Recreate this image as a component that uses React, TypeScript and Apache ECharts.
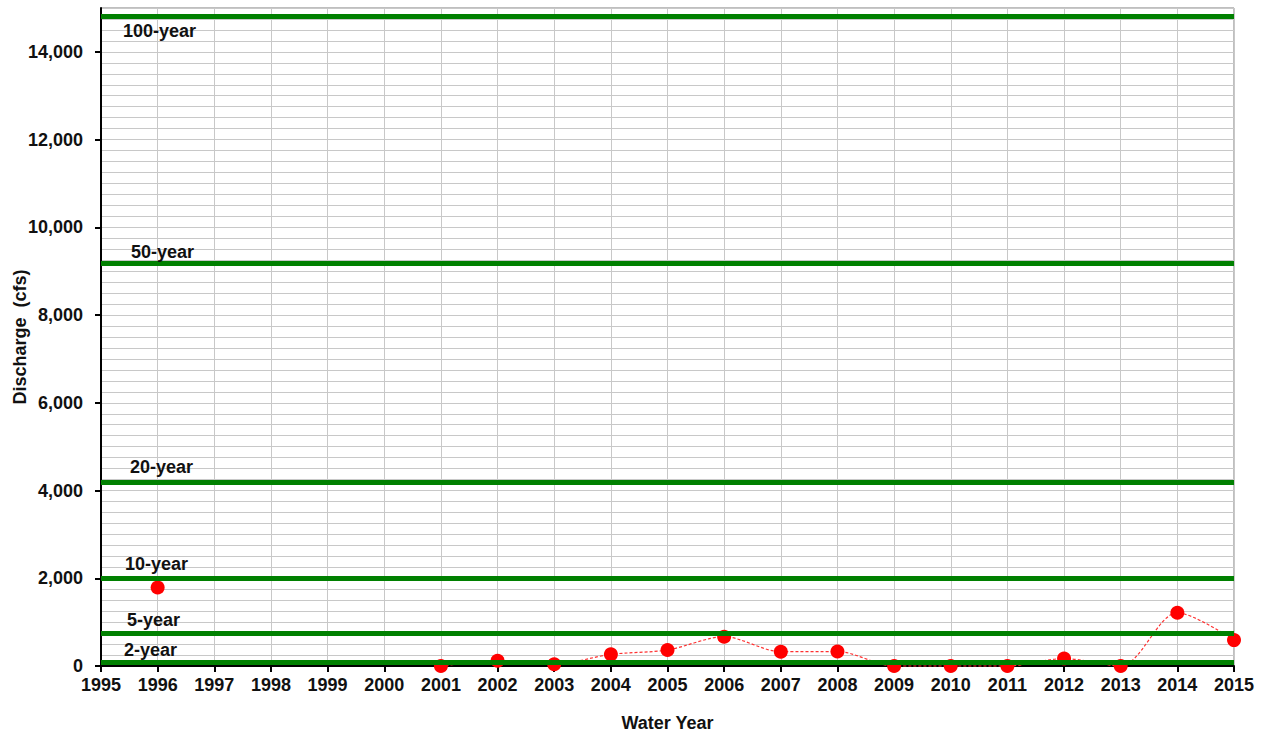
import React, { useEffect, useRef } from "react";
import * as echarts from "echarts";

const years = [1996, 1997, 1998, 1999, 2000, 2001, 2002, 2003, 2004, 2005, 2006, 2007, 2008, 2009, 2010, 2011, 2012, 2013, 2014, 2015];
const discharge = [1790, null, null, null, null, 0, 120, 40, 265, 365, 668, 326, 330, 0, 0, 0, 170, 0, 1215, 590];

const recurrenceNames = ["100-year", "50-year", "20-year", "10-year", "5-year", "2-year"];
const recurrenceValues = [14810, 9180, 4200, 2000, 740, 80];

const yTicks = [0, 2000, 4000, 6000, 8000, 10000, 12000, 14000];
const xMin = 1995;
const xMax = 2015;
const yMax = 15000;
const gridStep = 250;

const fmt = (v: number) => String(v).replace(/\B(?=(\d{3})+(?!\d))/g, ",");

export default function App() {
  const ref = useRef<HTMLDivElement>(null);

  useEffect(() => {
    document.body.style.margin = "0";
    if (!ref.current) return;
    const chart = echarts.init(ref.current, null, { renderer: "svg" });
    const font = "Liberation Sans, Arial, sans-serif";
    const textColor = "#111";
    const fs = 18;

    const labelLayout: Record<string, { pos: string; d: [number, number] }> = {
      "100-year": { pos: "insideStartBottom", d: [22, 6] },
      "50-year": { pos: "insideStartTop", d: [30, 2] },
      "20-year": { pos: "insideStartTop", d: [29, 6] },
      "10-year": { pos: "insideStartTop", d: [24, 5] },
      "5-year": { pos: "insideStartTop", d: [26, 5] },
      "2-year": { pos: "insideStartTop", d: [23, 3] },
    };

    chart.setOption({
      animation: false,
      backgroundColor: "#fff",
      grid: {
        left: 101,
        right: 30,
        top: 8,
        bottom: 70,
        show: true,
        borderColor: "#7f7f7f",
        borderWidth: 1,
        containLabel: false,
        outerBoundsMode: "none",
      },
      xAxis: {
        type: "value",
        min: xMin,
        max: xMax,
        interval: 1,
        name: "Water Year",
        nameLocation: "middle",
        nameGap: 48,
        nameMoveOverlap: false,
        nameTextStyle: { fontFamily: font, fontWeight: "bold", fontSize: fs, color: textColor },
        axisLine: { show: true, lineStyle: { color: "#000", width: 2 } },
        axisTick: { show: true, length: 6, lineStyle: { color: "#000", width: 2 } },
        axisLabel: {
          margin: 10,
          fontFamily: font,
          fontWeight: "bold",
          fontSize: fs,
          color: textColor,
          formatter: (v: number) => String(v),
        },
        splitLine: { show: true, lineStyle: { color: "#c8c8c8", width: 1 } },
      },
      yAxis: [
        {
          type: "value",
          min: 0,
          max: yMax,
          interval: gridStep,
          position: "left",
          axisLine: { show: false },
          axisTick: { show: false },
          axisLabel: { show: false },
          splitLine: { show: true, lineStyle: { color: "#c8c8c8", width: 1 } },
        },
        {
          type: "value",
          min: 0,
          max: yMax,
          interval: 2000,
          position: "left",
          name: "Discharge  (cfs)",
          nameLocation: "middle",
          nameGap: 72,
          nameMoveOverlap: false,
          nameTextStyle: { fontFamily: font, fontWeight: "bold", fontSize: fs, color: textColor },
          axisLine: { show: true, lineStyle: { color: "#000", width: 2 } },
          axisTick: { show: true, length: 6, customValues: yTicks, lineStyle: { color: "#000", width: 2 } },
          axisLabel: {
            margin: 18,
            customValues: yTicks,
            fontFamily: font,
            fontWeight: "bold",
            fontSize: fs,
            color: textColor,
            formatter: (v: number) => fmt(v),
          },
          splitLine: { show: false },
        },
      ],
      series: [
        {
          type: "line",
          yAxisIndex: 1,
          z: 2,
          clip: false,
          smooth: 0.3,
          connectNulls: false,
          data: years.map((y, i) => [y, discharge[i]]),
          symbol: "circle",
          symbolSize: 14,
          showSymbol: true,
          itemStyle: { color: "#ff0000" },
          lineStyle: { color: "#ff3030", width: 1.2, type: [3, 2] },
        },
        {
          type: "line",
          yAxisIndex: 1,
          z: 5,
          data: [],
          markLine: {
            silent: true,
            symbol: ["none", "none"],
            lineStyle: { color: "#008000", width: 5, type: "solid" },
            data: recurrenceNames.map((n, i) => ({
              yAxis: recurrenceValues[i],
              label: {
                show: true,
                formatter: n,
                position: labelLayout[n].pos,
                distance: labelLayout[n].d,
                fontFamily: font,
                fontWeight: "bold",
                fontSize: fs,
                color: textColor,
              },
            })),
          },
        },
      ],
    });

    return () => chart.dispose();
  }, []);

  return <div ref={ref} style={{ width: 1264, height: 736 }} />;
}
